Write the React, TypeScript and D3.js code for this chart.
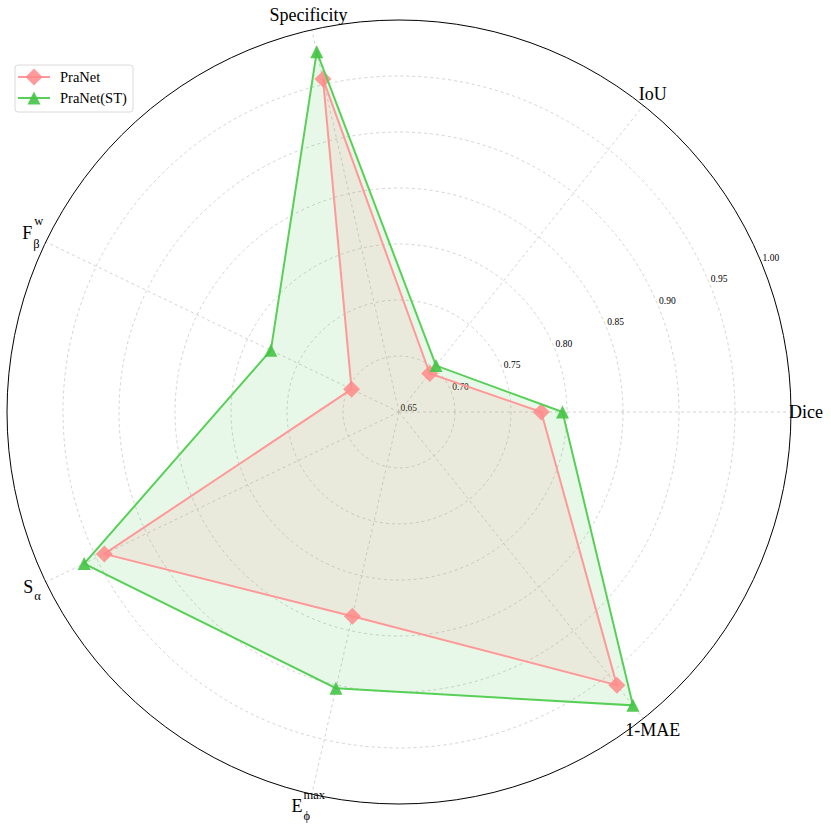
import React from "react";
import * as d3 from "d3";

const categories = ["Dice", "IoU", "Specificity", "Fbw", "Sa", "Emax", "1-MAE"];
const praNet = [0.777, 0.694, 0.955, 0.697, 0.942, 0.837, 0.962];
const praNetST = [0.796, 0.703, 0.98, 0.777, 0.962, 0.903, 0.985];
const ringTicks = [0.65, 0.7, 0.75, 0.8, 0.85, 0.9, 0.95, 1.0];
const seriesNames = ["PraNet", "PraNet(ST)"];

const W = 831;
const H = 830;
const cx = 399;
const cy = 412;
const R = 392;
const FONT = "'Liberation Serif', 'Times New Roman', serif";

const PINK_LINE = "#ff9898";
const PINK_MARK = "#ff8a8a";
const GREEN_LINE = "#58d058";
const GREEN_MARK = "#44c444";

export default function App() {
  const r = d3.scaleLinear().domain([0.65, 1.0]).range([0, R]);
  const n = categories.length;
  const ang = (i: number) => (i * 2 * Math.PI) / n;
  const pt = (i: number, v: number): [number, number] => {
    const rr = r(v);
    return [cx + rr * Math.cos(ang(i)), cy - rr * Math.sin(ang(i))];
  };
  const line = d3.line<[number, number]>().curve(d3.curveLinearClosed);
  const pinkPts = praNet.map((v, i) => pt(i, v));
  const greenPts = praNetST.map((v, i) => pt(i, v));

  const diamond = (x: number, y: number, s = 8.5) =>
    `M${x},${y - s}L${x + s},${y}L${x},${y + s}L${x - s},${y}Z`;
  const tri = (x: number, y: number, s = 6.5) =>
    `M${x},${y - s}L${x + s},${y + s}L${x - s},${y + s}Z`;

  const labelR = 407;
  const lp = (i: number) => [cx + labelR * Math.cos(ang(i)), cy - labelR * Math.sin(ang(i))];

  const renderLabel = (c: string, i: number) => {
    const [x, y] = lp(i);
    if (c === "Fbw") {
      return (
        <g key={c} fontFamily={FONT} fill="#000">
          <text x={x - 10} y={y + 4} fontSize={18}>F</text>
          <text x={x + 1} y={y + 13} fontSize={12.5}>β</text>
          <text x={x + 2} y={y - 10} fontSize={12.5}>w</text>
        </g>
      );
    }
    if (c === "Sa") {
      return (
        <g key={c} fontFamily={FONT} fill="#000">
          <text x={x - 9} y={y + 4} fontSize={18}>S</text>
          <text x={x + 2} y={y + 11} fontSize={12.5}>α</text>
        </g>
      );
    }
    if (c === "Emax") {
      return (
        <g key={c} fontFamily={FONT} fill="#000">
          <text x={x - 17} y={y + 3} fontSize={18}>E</text>
          <text x={x - 5} y={y + 11} fontSize={12.5}>ϕ</text>
          <text x={x - 5} y={y - 10} fontSize={12.5}>max</text>
        </g>
      );
    }
    return (
      <text key={c} x={x} y={y} fontSize={18} fontFamily={FONT} textAnchor="middle" dominantBaseline="central">
        {c}
      </text>
    );
  };

  const tickAng = (22.5 * Math.PI) / 180;

  return (
    <svg width={W} height={H} style={{ position: "absolute", left: 0, top: 0, background: "#fff" }}>
      {/* rings */}
      {ringTicks.slice(1, -1).map((t) => (
        <circle key={t} cx={cx} cy={cy} r={r(t)} fill="none" stroke="#c8c8c8" strokeWidth={0.8} strokeDasharray="3,3" />
      ))}
      {/* spokes */}
      {categories.map((c, i) => {
        const [x, y] = pt(i, 1.0);
        return <line key={c} x1={cx} y1={cy} x2={x} y2={y} stroke="#c8c8c8" strokeWidth={0.8} strokeDasharray="3,3" />;
      })}
      <circle cx={cx} cy={cy} r={R} fill="none" stroke="#000" strokeWidth={1} />
      {/* tick labels */}
      {ringTicks.map((t) => {
        const rr = r(t) + 10.5;
        return (
          <text key={t} x={cx + rr * Math.cos(tickAng)} y={cy - rr * Math.sin(tickAng)} fontSize={9.5} fontFamily={FONT}
            textAnchor="middle" dominantBaseline="central">
            {t.toFixed(2)}
          </text>
        );
      })}
      {/* fills */}
      <path d={line(greenPts) || ""} fill={GREEN_MARK} fillOpacity={0.12} stroke="none" />
      <path d={line(pinkPts) || ""} fill={PINK_MARK} fillOpacity={0.12} stroke="none" />
      {/* PraNet */}
      <path d={line(pinkPts) || ""} fill="none" stroke={PINK_LINE} strokeWidth={2} />
      {pinkPts.map(([x, y], i) => (
        <path key={i} d={diamond(x, y)} fill={PINK_MARK} fillOpacity={0.85} />
      ))}
      {/* PraNet(ST) */}
      <path d={line(greenPts) || ""} fill="none" stroke={GREEN_LINE} strokeWidth={2} />
      {greenPts.map(([x, y], i) => (
        <path key={i} d={tri(x, y)} fill={GREEN_MARK} fillOpacity={0.9} />
      ))}
      {/* axis labels */}
      {categories.map((c, i) => renderLabel(c, i))}
      {/* legend */}
      <rect x={15} y={65} width={118} height={47} rx={3} fill="#fff" fillOpacity={0.8} stroke="#d0d0d0" strokeWidth={0.8} />
      <line x1={18} x2={50} y1={77} y2={77} stroke={PINK_LINE} strokeWidth={2} />
      <path d={diamond(34, 77)} fill={PINK_MARK} fillOpacity={0.85} />
      <text x={60} y={82} fontSize={14.5} fontFamily={FONT}>{seriesNames[0]}</text>
      <line x1={18} x2={50} y1={98} y2={98} stroke={GREEN_LINE} strokeWidth={2} />
      <path d={tri(34, 98)} fill={GREEN_MARK} fillOpacity={0.9} />
      <text x={60} y={103} fontSize={14.5} fontFamily={FONT}>{seriesNames[1]}</text>
    </svg>
  );
}
